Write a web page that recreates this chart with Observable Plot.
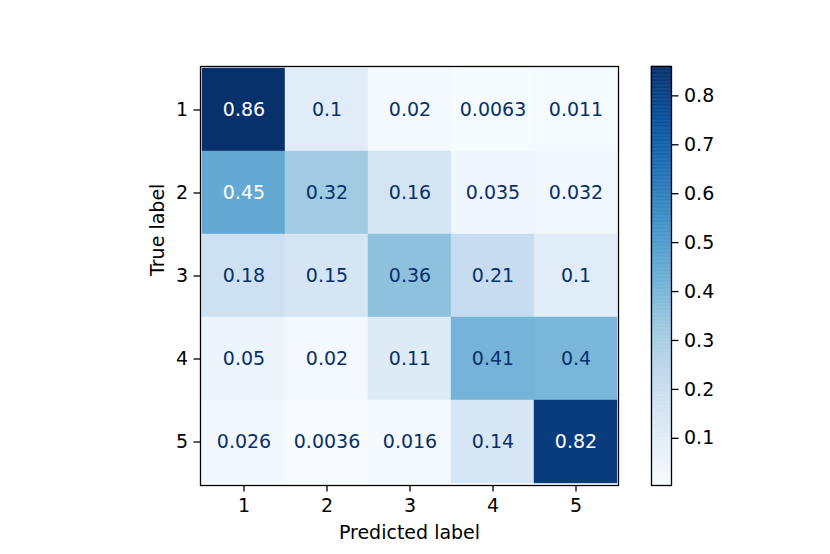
<!DOCTYPE html>
<html>
<head>
<meta charset="utf-8">
<script src="https://cdn.jsdelivr.net/npm/d3@7"></script>
<script src="https://cdn.jsdelivr.net/npm/@observablehq/plot@0.6"></script>
<style>
  html, body { margin: 0; padding: 0; background: white; }
  #wrap { position: relative; width: 830px; height: 554px; background: white; font-family: "DejaVu Sans", sans-serif; }
  #wrap svg { position: absolute; top: 0; }
</style>
</head>
<body>
<div id="wrap"></div>
<script>
// ---- data ----
const classLabels = ["1", "2", "3", "4", "5"];
const row1 = [0.86, 0.1, 0.02, 0.0063, 0.011];
const row2 = [0.45, 0.32, 0.16, 0.035, 0.032];
const row3 = [0.18, 0.15, 0.36, 0.21, 0.1];
const row4 = [0.05, 0.02, 0.11, 0.41, 0.4];
const row5 = [0.026, 0.0036, 0.016, 0.14, 0.82];
const matrixRows = [row1, row2, row3, row4, row5];
const colorbarTicks = [0.1, 0.2, 0.3, 0.4, 0.5, 0.6, 0.7, 0.8];

const cells = [];
matrixRows.forEach((row, i) => row.forEach((v, j) => cells.push({trueLabel: classLabels[i], predLabel: classLabels[j], value: v})));

const vmin = d3.min(cells, d => d.value);
const vmax = d3.max(cells, d => d.value);
const thresh = (vmin + vmax) / 2;
const bluesColors = ["#f7fbff", "#deebf7", "#c6dbef", "#9ecae1", "#6baed6", "#4292c6", "#2171b5", "#08519c", "#08306b"];
const bluesInterp = d3.piecewise(d3.interpolateRgb, bluesColors);
const fmt = d3.format(".2~g");
const FONT = 19;

const W = 830, H = 554;
const fTop = 66, fBottom = 485, fLeft = 200, fRight = 618;

const main = Plot.plot({
  width: W, height: H,
  marginLeft: fLeft, marginRight: W - fRight, marginTop: fTop, marginBottom: H - fBottom,
  style: {background: "transparent", fontFamily: "DejaVu Sans", overflow: "visible"},
  x: {domain: classLabels, padding: 0},
  y: {domain: classLabels, padding: 0},
  color: {type: "linear", domain: [vmin, vmax], interpolate: () => bluesInterp},
  marks: [
    Plot.cell(cells, {x: "predLabel", y: "trueLabel", fill: "value", inset: 0, stroke: "value", strokeWidth: 0.4}),
    Plot.text(cells, {x: "predLabel", y: "trueLabel", text: d => fmt(d.value), fontSize: FONT,
      fill: d => d.value > thresh ? "#ffffff" : "#08306b"}),
    Plot.frame({stroke: "black", strokeWidth: 1.3}),
    Plot.axisX({anchor: "bottom", tickSize: 6.5, tickPadding: 6, fontSize: FONT, strokeWidth: 1.3, label: null, color: "black"}),
    Plot.axisY({anchor: "left", tickSize: 6.5, tickPadding: 6, fontSize: FONT, strokeWidth: 1.3, label: null, color: "black"}),
    Plot.text(["Predicted label"], {frameAnchor: "bottom", dy: 53, fontSize: FONT, fill: "black"}),
    Plot.text(["True label"], {frameAnchor: "left", dx: -43, rotate: -90, fontSize: FONT, fill: "black"})
  ]
});
main.style.left = "0px";
document.getElementById("wrap").appendChild(main);

// ---- colorbar ----
const cbLeft = 640, cbW = 190;
const steps = d3.range(300).map(i => {
  const a = vmin + (vmax - vmin) * i / 300;
  const b = vmin + (vmax - vmin) * (i + 1) / 300;
  return {y1: a, y2: b, v: (a + b) / 2};
});
const cb = Plot.plot({
  width: cbW, height: H,
  marginLeft: 11, marginRight: cbW - 11 - 20, marginTop: fTop, marginBottom: H - fBottom,
  style: {background: "transparent", fontFamily: "DejaVu Sans", overflow: "visible"},
  x: {domain: [0, 1], axis: null},
  y: {domain: [vmin, vmax]},
  color: {type: "linear", domain: [vmin, vmax], interpolate: () => bluesInterp},
  marks: [
    Plot.rect(steps, {x1: 0, x2: 1, y1: "y1", y2: "y2", fill: "v", stroke: "v", strokeWidth: 0.5}),
    Plot.frame({stroke: "black", strokeWidth: 1.3}),
    Plot.axisY({anchor: "right", ticks: colorbarTicks, tickFormat: ".1f", tickSize: 6.5, tickPadding: 6,
      fontSize: FONT, strokeWidth: 1.3, label: null, color: "black"})
  ]
});
cb.style.left = cbLeft + "px";
document.getElementById("wrap").appendChild(cb);
</script>
</body>
</html>
